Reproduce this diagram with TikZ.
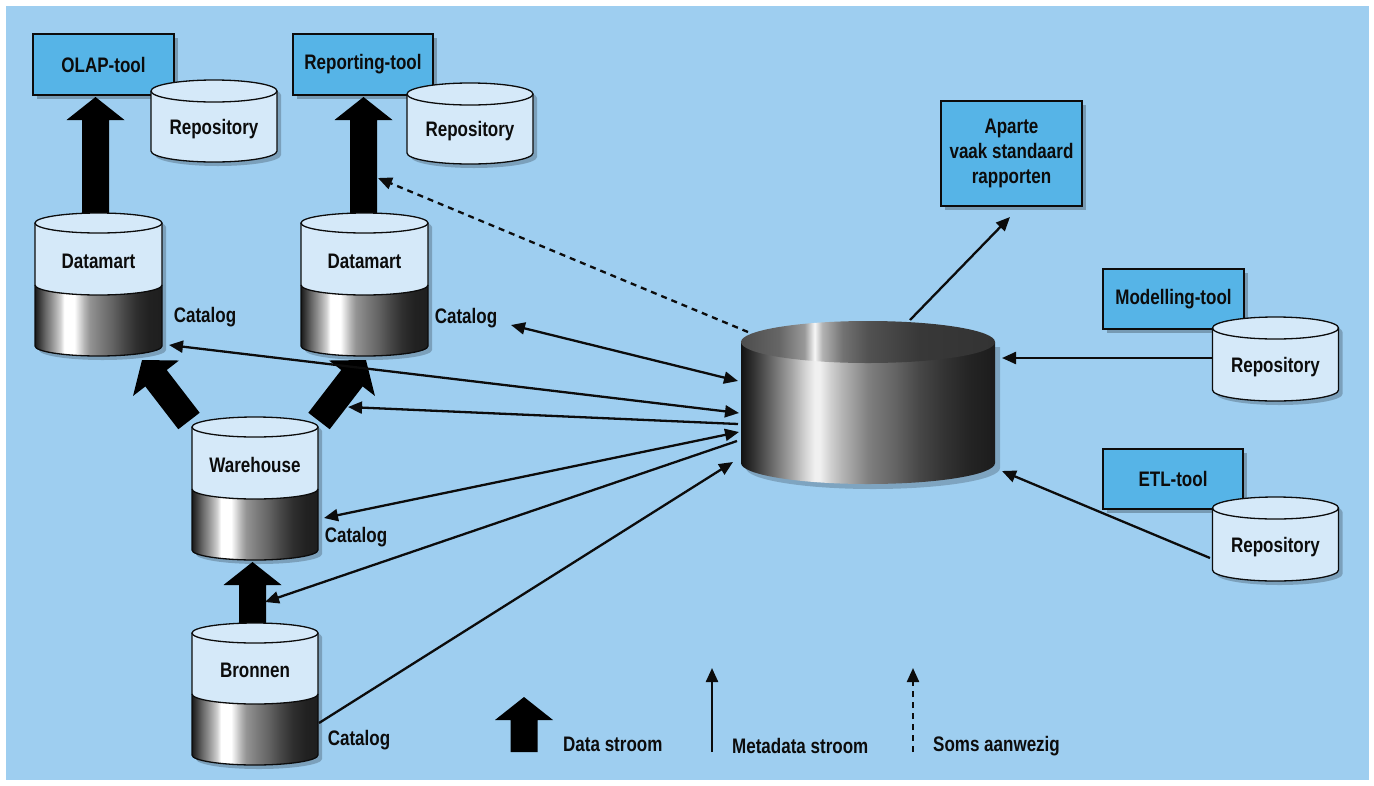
\documentclass[tikz,border=0pt]{standalone}
\usepackage{fontspec}
\setmainfont{Liberation Sans}[FakeStretch=0.81]
\usetikzlibrary{arrows.meta,calc,shadows}
\definecolor{bgblue}{RGB}{158,206,240}
\definecolor{boxblue}{RGB}{86,180,231}
\definecolor{cylblue}{RGB}{213,233,249}
\definecolor{ink}{RGB}{12,12,12}
\pgfdeclarehorizontalshading{catshade}{100bp}{color(0bp)=(black!90); color(25bp)=(black!90); color(27bp)=(black!75); color(29bp)=(black!60); color(31bp)=(black!47); color(33bp)=(black!33); color(35bp)=(black!18); color(36.5bp)=(white); color(40.5bp)=(white); color(42.5bp)=(black!15); color(44.5bp)=(black!30); color(46.5bp)=(black!42); color(50bp)=(black!50); color(55bp)=(black!60); color(60bp)=(black!72); color(65bp)=(black!82); color(70bp)=(black!87); color(75bp)=(black!88); color(100bp)=(black!88)}
\pgfdeclarehorizontalshading{bigside}{100bp}{color(0bp)=(black!93); color(25bp)=(black!93); color(27.5bp)=(black!80); color(30bp)=(black!65); color(32.5bp)=(black!50); color(35bp)=(black!35); color(37.5bp)=(black!18); color(39.5bp)=(black!6); color(40.5bp)=(black!6); color(42.5bp)=(black!18); color(45bp)=(black!30); color(50bp)=(black!50); color(55bp)=(black!60); color(60bp)=(black!72); color(65bp)=(black!80); color(70bp)=(black!86); color(75bp)=(black!89); color(100bp)=(black!89)}
\pgfdeclarehorizontalshading{bigtop}{100bp}{color(0bp)=(black!70); color(25bp)=(black!70); color(32.5bp)=(black!60); color(37.5bp)=(black!40); color(39.5bp)=(black!3); color(41bp)=(black!30); color(45bp)=(black!55); color(50bp)=(black!68); color(60bp)=(black!78); color(75bp)=(black!80); color(100bp)=(black!80)}
\tikzset{
  lbl/.style={font=\fontsize{21}{25}\selectfont\bfseries, text=ink, inner sep=0pt},
  toolbox/.style={draw=ink, line width=1.2pt, fill=boxblue, lbl, align=center,
    drop shadow={shadow xshift=4pt, shadow yshift=-4pt, opacity=0.25, fill=black}},
  cyledge/.style={draw=ink, line width=1.3pt},
  >={Triangle[length=14pt,width=12pt]},
  mline/.style={draw=ink, line width=2.3pt},
  sometimes/.style={mline, dash pattern=on 6pt off 5pt}
}
% data cylinder: name, cx, rx, ytop, ymid, ybot, label
\newcommand{\dbcyl}[7]{%
  \fill[black,opacity=.22] (#2-#3+4,#4+4) -- (#2-#3+4,#6+4) arc[start angle=180,end angle=360,x radius=#3pt,y radius=10pt] -- (#2+#3+4,#4+4) arc[start angle=0,end angle=180,x radius=#3pt,y radius=10pt] -- cycle;
  \shade[shading=catshade] (#2-#3,#5) -- (#2-#3,#6) arc[start angle=180,end angle=360,x radius=#3pt,y radius=10pt] -- (#2+#3,#5) arc[start angle=0,end angle=-180,x radius=#3pt,y radius=10pt] -- cycle;
  \fill[cylblue] (#2-#3,#4) -- (#2-#3,#5) arc[start angle=180,end angle=360,x radius=#3pt,y radius=10pt] -- (#2+#3,#4) arc[start angle=0,end angle=180,x radius=#3pt,y radius=10pt] -- cycle;
  \draw[cyledge] (#2,#4) ellipse[x radius=#3pt,y radius=10pt];
  \draw[cyledge] (#2-#3,#4) -- (#2-#3,#6) arc[start angle=180,end angle=360,x radius=#3pt,y radius=10pt] -- (#2+#3,#4);
  \draw[cyledge] (#2-#3,#5) arc[start angle=180,end angle=360,x radius=#3pt,y radius=10pt];
  \node[lbl] (#1) at (#2,{(#4+#5)/2+7}) {#7};
}
% repository cylinder: name, cx, ytop, ybot
\newcommand{\repcyl}[4]{%
  \fill[black,opacity=.22] (#2-63+4,#3+4) -- (#2-63+4,#4+4) arc[start angle=180,end angle=360,x radius=63pt,y radius=11pt] -- (#2+63+4,#3+4) arc[start angle=0,end angle=180,x radius=63pt,y radius=11pt] -- cycle;
  \fill[cylblue] (#2-63,#3) -- (#2-63,#4) arc[start angle=180,end angle=360,x radius=63pt,y radius=11pt] -- (#2+63,#3) arc[start angle=0,end angle=180,x radius=63pt,y radius=11pt] -- cycle;
  \draw[cyledge] (#2,#3) ellipse[x radius=63pt,y radius=11pt];
  \draw[cyledge] (#2-63,#3) -- (#2-63,#4) arc[start angle=180,end angle=360,x radius=63pt,y radius=11pt] -- (#2+63,#3);
  \node[lbl] (#1) at (#2,{(#3+#4)/2+8}) {Repository};
}
% thick data-flow arrow from tail coordinate to tip coordinate
\newcommand{\flowarrow}[2]{%
  \path ($(#2)!23pt!(#1)$) coordinate (hb);
  \fill[black] ($(#1)!13.5pt!90:(#2)$) -- ($(hb)!13.5pt!90:(#2)$) -- ($(hb)!29pt!90:(#2)$) -- (#2) -- ($(hb)!29pt!-90:(#2)$) -- ($(hb)!13.5pt!-90:(#2)$) -- ($(#1)!13.5pt!-90:(#2)$) -- cycle;
}
\begin{document}
\begin{tikzpicture}[x=1pt,y=-1pt]
\useasboundingbox (0,0) rectangle (1374,785);
\fill[white] (0,0) rectangle (1374,785);
\fill[bgblue] (6,6) rectangle (1369,780);

% tool boxes
\node[toolbox, minimum width=141pt, minimum height=61pt] (olap) at (103.5,64.5) {OLAP-tool};
\node[toolbox, minimum width=140pt, minimum height=61pt] (report) at (363,64.5) {Reporting-tool};
\node[toolbox, minimum width=141pt, minimum height=105pt] (aparte) at (1011.5,153.5) {Aparte\\vaak standaard\\rapporten};
\node[toolbox, minimum width=141pt, minimum height=60pt] (model) at (1173.5,299) {Modelling-tool};
\node[toolbox, minimum width=140pt, minimum height=60pt] (etl) at (1173,479) {ETL-tool};

% thick data-flow arrows (drawn before the cylinders)
\coordinate (olapT) at (95.5,222); \coordinate (olapH) at (95.5,97);
\coordinate (repT) at (363.5,222); \coordinate (repH) at (363.5,97);
\coordinate (whA) at (189,421); \coordinate (dmA) at (142,360);
\coordinate (whB) at (319,421); \coordinate (dmB) at (366,360);
\coordinate (brT) at (252.5,628); \coordinate (brH) at (252.5,562);
\coordinate (legT) at (524,752); \coordinate (legH) at (524,697);
\flowarrow{olapT}{olapH}
\flowarrow{repT}{repH}
\flowarrow{whA}{dmA}
\flowarrow{whB}{dmB}
\flowarrow{brT}{brH}
\flowarrow{legT}{legH}

% repositories
\repcyl{repolap}{214}{91}{151}
\repcyl{reprep}{470}{94}{153}
\repcyl{repmod}{1275.5}{328}{390}
\repcyl{repetl}{1275.5}{508}{570}

% data cylinders
\dbcyl{dmone}{98.5}{63.5}{223}{285}{346}{Datamart}
\dbcyl{dmtwo}{364.5}{63.5}{223}{285}{346}{Datamart}
\dbcyl{wh}{255}{63}{427}{489}{550}{Warehouse}
\dbcyl{br}{255}{63}{633}{694}{755}{Bronnen}

% central metadata cylinder
\fill[black,opacity=.2] (746,347) -- (746,468) arc[start angle=180,end angle=360,x radius=127pt,y radius=21pt] -- (1000,347) -- cycle;
\shade[shading=bigside] (741,342) -- (741,463) arc[start angle=180,end angle=360,x radius=127pt,y radius=21pt] -- (995,342) -- cycle;
\shade[shading=bigtop] (868,342) ellipse[x radius=127pt,y radius=21pt];
\node[minimum width=254pt, minimum height=163pt, inner sep=0pt] (meta) at (868,402) {};

% catalog labels
\node[lbl] (catone) at (205,317) {Catalog};
\node[lbl] (cattwo) at (466,318) {Catalog};
\node[lbl] (catwh) at (356,537) {Catalog};
\node[lbl] (catbr) at (359,740) {Catalog};

% connector end points
\coordinate (pDmOne) at (169,345);
\coordinate (pDmTwo) at (511,325);
\coordinate (pWh) at (324,518);
\coordinate (pBr) at (319,723);
\coordinate (pFlowB) at (348,407);
\coordinate (pFlowBr) at (265,602);
\coordinate (pRep) at (378,178);
\coordinate (m1) at (738,381);
\coordinate (m2) at (739,413);
\coordinate (m3) at (738,424);
\coordinate (m4) at (739,432);
\coordinate (m5) at (737,441);
\coordinate (m6) at (733,462);
\coordinate (mDash) at (748,332);
\coordinate (mTop) at (910,320);
\coordinate (mMod) at (1002,358);
\coordinate (mEtl) at (1002,471);
\coordinate (pAp) at (1010,217);
\coordinate (pMod) at (1212,358);
\coordinate (pEtl) at (1210,558);

% metadata connectors
\draw[mline,<->] (pDmTwo) -- (m1);
\draw[mline,<->] (pDmOne) -- (m2);
\draw[mline,->] (m3) -- (pFlowB);
\draw[mline,<->] (pWh) -- (m4);
\draw[mline,->] (m5) -- (pFlowBr);
\draw[mline,->] (pBr) -- (m6);
\draw[sometimes,->] (mDash) -- (pRep);
\draw[mline,->] (mTop) -- (pAp);
\draw[mline,->] (pMod) -- (mMod);
\draw[mline,->] (pEtl) -- (mEtl);

% legend
\node[lbl, anchor=west] (legdata) at (563,744) {Data stroom};
\coordinate (lmB) at (712,752); \coordinate (lmT) at (712,668);
\draw[mline,->] (lmB) -- (lmT);
\node[lbl, anchor=west] (legmeta) at (732,746) {Metadata stroom};
\coordinate (lsB) at (913,752); \coordinate (lsT) at (913,668);
\draw[sometimes,->] (lsB) -- (lsT);
\node[lbl, anchor=west] (legsoms) at (933,746) {Soms aanwezig};
\end{tikzpicture}
\end{document}
